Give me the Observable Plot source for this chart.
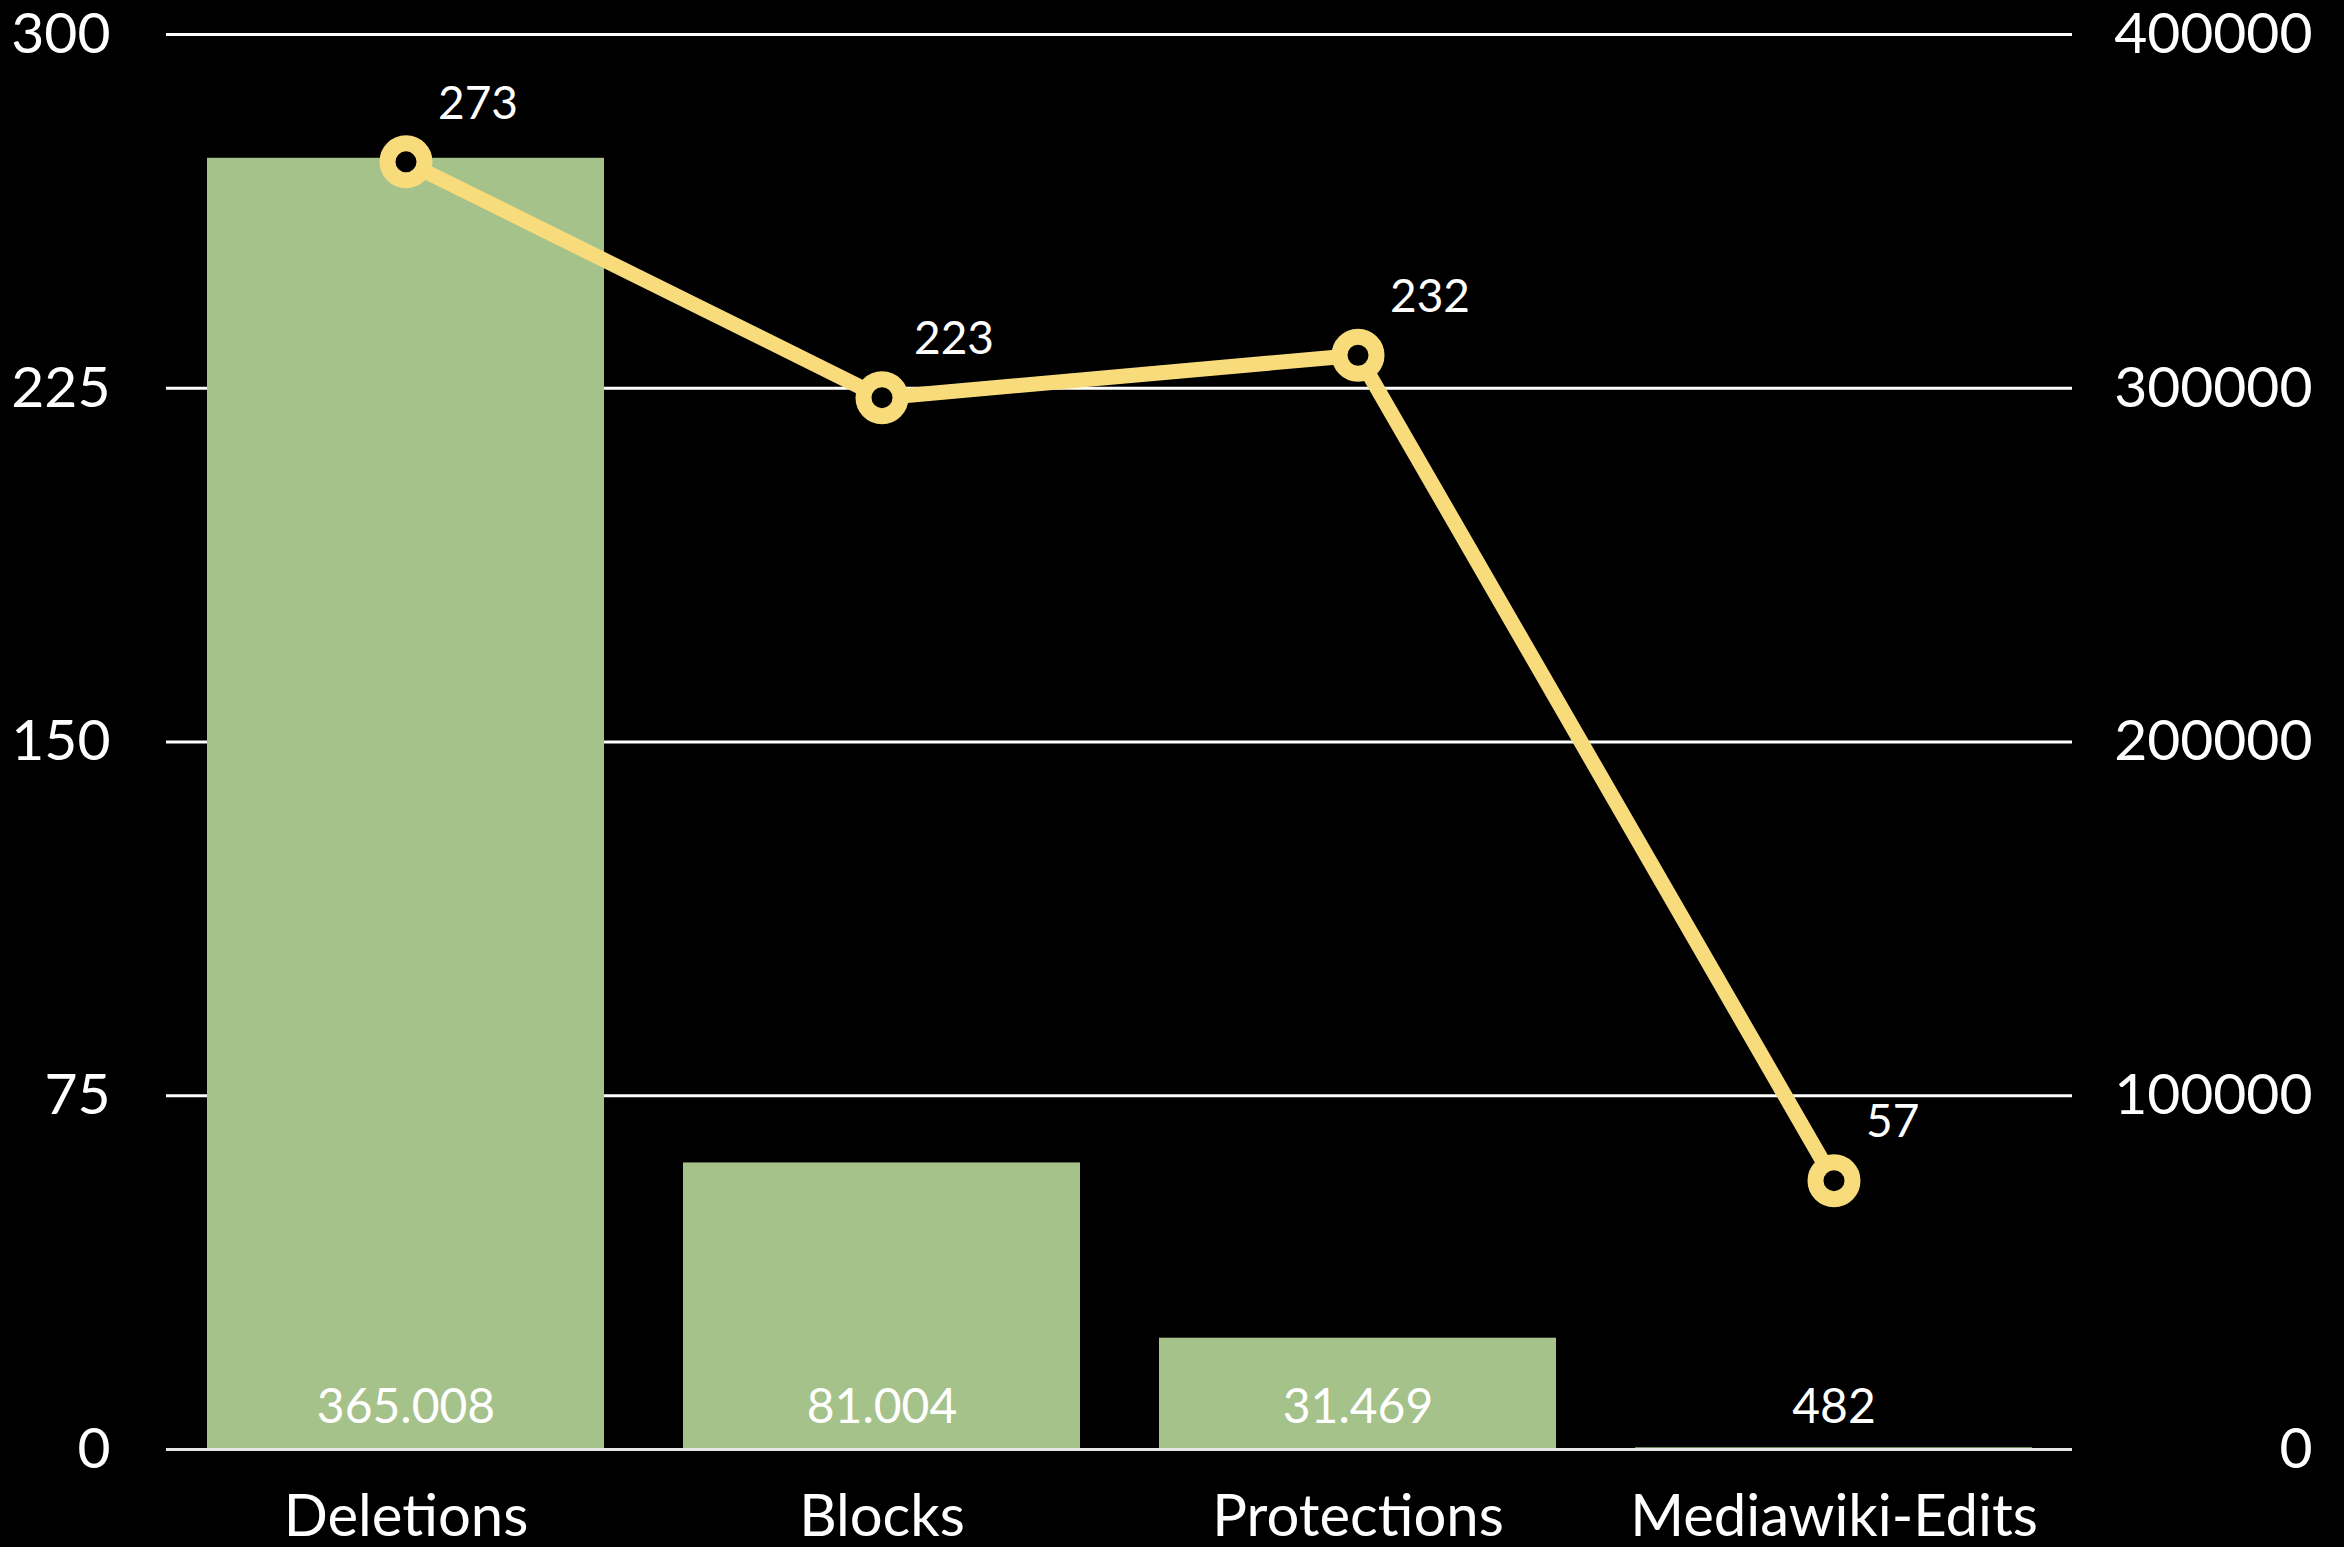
<!DOCTYPE html>
<html>
<head>
<meta charset="utf-8">
<script src="https://cdn.jsdelivr.net/npm/d3@7"></script>
<script src="https://cdn.jsdelivr.net/npm/@observablehq/plot@0.6"></script>
<style>
  html, body { margin: 0; padding: 0; background: #000; overflow: hidden; }
  #chart svg { display: block; }
</style>
</head>
<body>
<div id="chart"></div>
<script>
// ---- data ----
const categories = ["Deletions", "Blocks", "Protections", "Mediawiki-Edits"];
const barValues = [365008, 81004, 31469, 482];      // right axis
const lineValues = [273, 223, 232, 57];             // left axis
const leftTicks = [0, 75, 150, 225, 300];
const rightTicks = [0, 100000, 200000, 300000, 400000];
const leftMax = 300;
const rightMax = 400000;

const toLeft = v => v * leftMax / rightMax;
const rows = categories.map((c, i) => ({cat: c, bar: barValues[i], barL: toLeft(barValues[i]), line: lineValues[i]}));

const deFmt = d3.formatLocale({decimal: ",", thousands: ".", grouping: [3], currency: ["", ""]}).format(",");

const FONT = "Lato, 'Open Sans', sans-serif";
const GREEN = "#a5c28b";
const YELLOW = "#f8dc7b";

const plot = Plot.plot({
  width: 2344,
  height: 1547,
  marginTop: 34,
  marginBottom: 98,
  marginLeft: 166,
  marginRight: 272,
  style: {background: "#000", color: "#fff", fontFamily: FONT, overflow: "visible"},
  x: {domain: categories, paddingInner: 0.166, paddingOuter: 0.083, axis: null},
  y: {domain: [0, leftMax], axis: null},
  marks: [
    Plot.ruleY(leftTicks, {y: d => d, stroke: "#fff", strokeWidth: 3}),
    Plot.barY(rows, {x: "cat", y: "barL", fill: GREEN}),
    Plot.ruleY([0], {stroke: "#e6e6e6", strokeWidth: 3}),
    Plot.axisY(leftTicks, {anchor: "left", tickSize: 0, tickPadding: 56, fontSize: 57, fill: "#fff", label: null}),
    Plot.axisY(rightTicks.map(toLeft), {anchor: "right", tickSize: 0, tickPadding: 240, textAnchor: "end",
      fontSize: 57, fill: "#fff", label: null, tickFormat: d => String(Math.round(d * rightMax / leftMax))}),
    Plot.axisX(categories, {anchor: "bottom", tickSize: 0, tickPadding: 45, fontSize: 58, fill: "#fff", label: null}),
    Plot.text(rows, {x: "cat", y: 0, text: d => deFmt(d.bar), dy: -42, fill: "#fff", fontSize: 48,
      ariaLabel: "bar-labels"}),
    Plot.line(rows, {x: "cat", y: "line", stroke: YELLOW, strokeWidth: 15, strokeLinejoin: "round"}),
    Plot.dot(rows, {x: "cat", y: "line", r: 18.5, stroke: YELLOW, strokeWidth: 16, fill: "#000"}),
    Plot.text(rows, {x: "cat", y: "line", text: d => String(d.line), textAnchor: "start", dx: 32, dy: -58,
      fill: "#fff", fontSize: 46})
  ]
});

const svg = d3.select(plot);
const defs = svg.insert("defs", ":first-child");
const f = defs.append("filter").attr("id", "txtShadow").attr("x", "-20%").attr("y", "-30%").attr("width", "140%").attr("height", "170%");
f.append("feDropShadow").attr("dx", 0).attr("dy", 4).attr("stdDeviation", 3).attr("flood-color", "#2d3a22").attr("flood-opacity", 0.8);
svg.selectAll('g[aria-label="bar-labels"]').attr("filter", "url(#txtShadow)");

document.getElementById("chart").appendChild(plot);
</script>
</body>
</html>
